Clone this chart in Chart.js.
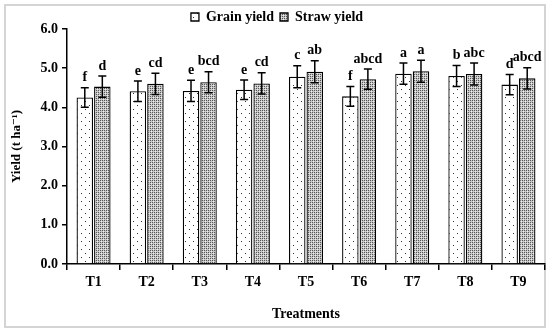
<!DOCTYPE html>
<html><head><meta charset="utf-8">
<script src="https://cdn.jsdelivr.net/npm/chart.js@4.4.1/dist/chart.umd.min.js"></script>
<style>html,body{margin:0;padding:0;background:#fff}#wrap{width:550px;height:333px}</style>
</head><body><div id="wrap"><canvas id="c" width="550" height="333"></canvas></div>
<script>
const categories = ["T1","T2","T3","T4","T5","T6","T7","T8","T9"];
const grainYield = [4.25,4.41,4.42,4.45,4.78,4.28,4.86,4.80,4.58];
const strawYield = [4.53,4.60,4.64,4.61,4.91,4.72,4.92,4.85,4.74];
const grainErr = [0.25,0.26,0.27,0.25,0.28,0.25,0.27,0.27,0.26];
const strawErr = [0.27,0.27,0.27,0.27,0.28,0.26,0.28,0.28,0.27];
const grainLetters = ["f","e","e","e","c","f","a","b","d"];
const strawLetters = ["d","cd","bcd","cd","ab","abcd","a","abc","abcd"];
const yTicks = [0,1,2,3,4,5,6];

const FONT = "'Liberation Serif', 'DejaVu Serif', serif";

function makePattern(kind){
  const p = document.createElement('canvas');
  const ctx = p.getContext('2d');
  if(kind==='grain'){
    p.width=8; p.height=8;
    ctx.fillStyle='#fff'; ctx.fillRect(0,0,8,8);
    ctx.fillStyle='#333';
    ctx.fillRect(1,1,1,1); ctx.fillRect(5,5,1,1);
  } else {
    p.width=4; p.height=4;
    ctx.fillStyle='#c8c8c8'; ctx.fillRect(0,0,4,4);
    ctx.fillStyle='#555';
    ctx.fillRect(0,0,1,1); ctx.fillRect(2,2,1,1); ctx.fillRect(2,0,1,1); ctx.fillRect(0,2,1,1);
    ctx.fillStyle='#eee';
    ctx.fillRect(1,1,1,1); ctx.fillRect(3,3,1,1);
  }
  return document.getElementById('c').getContext('2d').createPattern(p,'repeat');
}
const grainPat = makePattern('grain');
const strawPat = makePattern('straw');

const errorBars = {
  id:'errorBars',
  afterDatasetsDraw(chart){
    const ctx = chart.ctx;
    const y = chart.scales.y;
    const errs = [grainErr, strawErr];
    const letters = [grainLetters, strawLetters];
    ctx.save();
    chart.data.datasets.forEach((ds,di)=>{
      const meta = chart.getDatasetMeta(di);
      meta.data.forEach((bar,i)=>{
        const v = ds.data[i], e = errs[di][i];
        const x = bar.x;
        const yt = y.getPixelForValue(v+e), yb = y.getPixelForValue(v-e);
        ctx.strokeStyle='#000'; ctx.lineWidth=1.5;
        ctx.beginPath();
        ctx.moveTo(x,yt); ctx.lineTo(x,yb);
        ctx.moveTo(x-4,yt); ctx.lineTo(x+4,yt);
        ctx.moveTo(x-4,yb); ctx.lineTo(x+4,yb);
        ctx.stroke();
        ctx.fillStyle='#000';
        ctx.font = "bold 14px "+FONT;
        ctx.textAlign='center'; ctx.textBaseline='bottom';
        ctx.fillText(letters[di][i], x, yt-3);
      });
    });
    ctx.restore();
  }
};
const frame = {
  id:'frame',
  afterInit(chart){
    const lg = chart.legend;
    if(lg){
      const orig = lg.fit;
      lg.fit = function(){ orig.call(this); this.height -= 5; };
    }
  },
  beforeDraw(chart){
    const ctx = chart.ctx;
    ctx.save();
    ctx.fillStyle='#fff'; ctx.fillRect(0,0,550,333);
    ctx.strokeStyle='#d4d4d4'; ctx.lineWidth=2;
    ctx.strokeRect(5,5,540,322);
    ctx.restore();
  }
};

new Chart(document.getElementById('c'), {
  type:'bar',
  data:{
    labels: categories,
    datasets:[
      {label:'Grain yield', data: grainYield, backgroundColor: grainPat, borderColor:'#000', borderWidth:1.3, barPercentage:0.94, categoryPercentage:0.66},
      {label:'Straw yield', data: strawYield, backgroundColor: strawPat, borderColor:'#000', borderWidth:1.3, barPercentage:0.94, categoryPercentage:0.66}
    ]
  },
  options:{
    responsive:false, animation:false,
    layout:{padding:{left:9,right:5,top:4,bottom:10}},
    plugins:{
      legend:{position:'top', labels:{font:{family:FONT,size:14,weight:'bold'}, color:'#000', boxWidth:8, boxHeight:8, padding:6, useBorderRadius:false}},
      tooltip:{enabled:false}
    },
    scales:{
      x:{
        grid:{drawOnChartArea:false, drawTicks:true, tickLength:6, color:'#000', lineWidth:1.5, offset:true},
        border:{color:'#000', width:1.5},
        ticks:{font:{family:FONT,size:14,weight:'bold'}, color:'#000', padding:4},
        title:{display:true, text:'Treatments', font:{family:FONT,size:14,weight:'bold'}, color:'#000', padding:{top:6,bottom:0}},
        afterFit(s){ s.height = 59; }
      },
      y:{
        min:0, max:6,
        afterBuildTicks(s){ s.ticks = yTicks.map(v=>({value:v})); },
        grid:{drawOnChartArea:false, drawTicks:true, tickLength:5, color:'#000', lineWidth:1.5},
        border:{color:'#000', width:1.5},
        ticks:{font:{family:FONT,size:14,weight:'bold'}, color:'#000', padding:4, callback:v=>v.toFixed(1)},
        title:{display:true, text:'Yield (t ha\u207B\u00B9)', font:{family:FONT,size:13,weight:'bold'}, color:'#000', padding:{top:0,bottom:4}},
        afterFit(s){ s.width = 58; }
      }
    }
  },
  plugins:[frame, errorBars]
});
</script></body></html>
